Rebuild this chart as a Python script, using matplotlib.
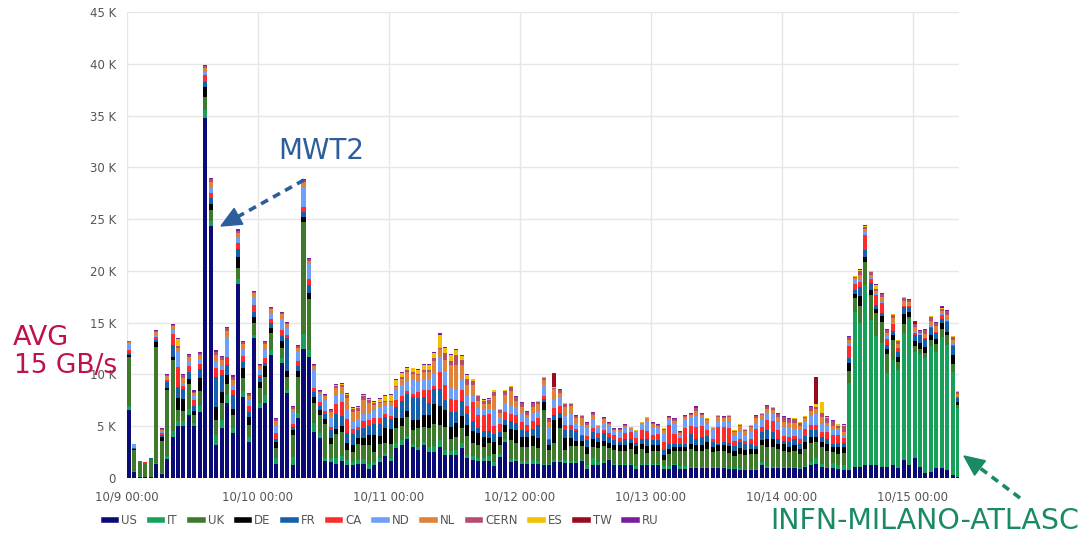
import matplotlib
matplotlib.use("Agg")
import matplotlib.pyplot as plt
from matplotlib.lines import Line2D
from matplotlib.patches import Polygon
import numpy as np

# ---------------- data (thousands per hour bin, starting 10/9 00:00) ----------------
day_labels = ["10/9 00:00", "10/10 00:00", "10/11 00:00", "10/12 00:00",
              "10/13 00:00", "10/14 00:00", "10/15 00:00"]
series_names = ["US", "IT", "UK", "DE", "FR", "CA", "ND", "NL", "CERN", "ES", "TW", "RU"]

US = [6.6, 0.6, 0.13, 0.05, 0.05, 1.35, 0.4, 1.8, 4.0, 5.0,
      5.0, 6.1, 5.0, 6.4, 34.8, 24.3, 3.2, 4.8, 7.2, 4.3,
      18.7, 7.8, 3.5, 13.5, 6.75, 7.2, 11.9, 1.4, 11.1, 8.2,
      1.25, 5.8, 12.5, 11.7, 4.4, 3.9, 1.6, 1.5, 1.35, 1.6,
      1.25, 1.25, 1.4, 1.4, 0.9, 1.25, 1.5, 2.1, 1.6, 2.9,
      3.2, 3.8, 3.0, 2.7, 3.2, 2.5, 2.5, 3.0, 2.2, 2.2,
      2.2, 2.9, 1.9, 1.7, 1.6, 1.6, 1.6, 1.15, 2.05, 3.5,
      1.5, 1.6, 1.4, 1.4, 1.35, 1.4, 1.25, 1.25, 1.5, 1.5,
      1.45, 1.45, 1.45, 1.6, 0.85, 1.25, 1.25, 1.45, 1.75, 1.25,
      1.25, 1.25, 1.25, 0.9, 1.25, 1.25, 1.25, 1.25, 0.9, 0.9,
      1.25, 0.9, 0.9, 1.0, 1.0, 1.0, 1.0, 1.0, 1.0, 1.0,
      0.9, 0.9, 0.8, 0.8, 0.75, 0.75, 1.25, 1.0, 1.0, 1.0,
      1.0, 1.0, 1.0, 0.9, 1.1, 1.25, 1.4, 1.1, 1.0, 0.93,
      0.85, 0.8, 0.8, 1.1, 1.1, 1.25, 1.25, 1.25, 1.1, 1.1,
      1.25, 0.93, 1.75, 1.25, 1.9, 1.1, 0.45, 0.6, 0.93, 0.93,
      0.8, 0.3, 0.13]

IT = [0.4, 0.05, 0.02, 0.0, 0.0, 0.1, 0.05, 0.3, 0.5, 0.5,
      0.5, 0.6, 0.3, 0.6, 0.7, 0.5, 1.0, 0.8, 0.8, 0.5,
      0.5, 0.6, 0.5, 0.3, 0.5, 0.8, 0.5, 0.5, 0.5, 0.3,
      0.8, 0.5, 1.4, 0.7, 0.9, 0.4, 0.3, 0.4, 0.6, 0.5,
      0.5, 0.3, 0.3, 0.4, 0.5, 0.3, 0.4, 0.3, 0.3, 0.5,
      0.5, 0.3, 0.25, 0.3, 0.3, 0.5, 0.55, 0.65, 0.5, 0.4,
      0.5, 0.5, 0.3, 0.4, 0.3, 0.3, 0.5, 0.4, 0.3, 0.3,
      0.3, 0.2, 0.25, 0.25, 0.4, 0.25, 0.15, 0.15, 0.25, 0.25,
      0.3, 0.15, 0.2, 0.15, 0.4, 0.65, 0.3, 0.15, 0.1, 0.15,
      0.1, 0.1, 0.1, 0.3, 0.1, 0.1, 0.1, 0.1, 0.3, 0.3,
      0.1, 0.3, 0.3, 0.1, 0.1, 0.1, 0.1, 0.1, 0.1, 0.1,
      0.1, 0.1, 0.2, 0.1, 0.1, 0.1, 0.3, 0.2, 0.1, 0.1,
      0.1, 0.1, 0.1, 0.1, 0.1, 0.3, 0.5, 0.3, 0.1, 0.5,
      0.4, 0.5, 8.4, 14.95, 13.9, 17.4, 14.05, 12.5, 11.9, 9.0,
      10.15, 9.5, 12.3, 14.1, 10.3, 10.9, 11.15, 12.1, 11.25, 12.7,
      12.0, 9.95, 6.6]

UK = [4.7, 2.1, 1.4, 1.4, 1.8, 11.2, 3.1, 6.4, 6.9, 1.1,
      1.0, 2.4, 0.8, 1.4, 1.3, 1.1, 1.4, 1.6, 1.1, 1.3,
      1.1, 1.3, 1.1, 1.2, 1.4, 1.8, 1.6, 1.0, 1.0, 1.3,
      2.1, 3.5, 10.8, 4.9, 1.9, 1.8, 3.3, 1.4, 2.3, 2.3,
      1.0, 1.0, 1.6, 1.4, 1.8, 1.0, 1.4, 1.0, 1.4, 1.4,
      1.3, 1.8, 1.35, 1.8, 1.45, 1.8, 2.2, 1.45, 2.25, 1.2,
      1.3, 1.45, 1.9, 1.3, 1.3, 1.1, 1.3, 0.8, 0.8, 0.65,
      1.9, 1.55, 1.35, 1.35, 1.3, 1.2, 5.15, 1.3, 1.6, 3.05,
      1.0, 1.45, 1.4, 1.3, 1.1, 1.1, 1.3, 1.45, 1.0, 1.3,
      1.3, 1.3, 1.45, 1.1, 1.45, 1.1, 1.3, 1.3, 0.5, 1.1,
      1.3, 1.45, 1.45, 1.7, 1.55, 1.55, 1.7, 1.4, 1.55, 1.55,
      1.4, 1.1, 1.35, 1.35, 1.45, 1.45, 1.6, 1.8, 1.9, 1.7,
      1.55, 1.4, 1.55, 1.3, 1.6, 1.8, 1.6, 1.55, 1.55, 1.1,
      1.1, 1.1, 1.1, 1.3, 1.6, 2.2, 2.35, 2.2, 2.1, 1.9,
      1.9, 0.8, 0.8, 0.2, 0.5, 0.5, 0.5, 0.65, 0.8, 0.8,
      1.0, 0.8, 0.3]

DE = [0.2, 0.05, 0.02, 0.02, 0.02, 0.45, 0.4, 0.2, 0.3, 1.1,
      1.1, 0.5, 0.4, 1.3, 1.0, 0.6, 1.3, 1.1, 0.8, 0.6,
      1.0, 0.9, 0.8, 0.5, 0.6, 1.0, 0.5, 0.6, 0.6, 0.5,
      0.5, 0.5, 0.5, 0.6, 0.6, 0.5, 0.5, 0.6, 0.5, 0.6,
      0.6, 0.6, 0.6, 0.7, 1.0, 1.6, 0.8, 1.4, 1.4, 1.0,
      0.8, 0.6, 1.0, 0.8, 1.1, 1.3, 1.9, 1.9, 1.6, 1.1,
      1.3, 1.1, 1.0, 1.1, 1.1, 1.0, 0.5, 1.1, 0.8, 0.65,
      1.0, 1.3, 1.0, 1.0, 1.0, 1.0, 0.8, 0.5, 2.25, 1.0,
      1.1, 0.8, 0.5, 0.5, 0.65, 0.8, 0.65, 0.5, 0.5, 0.5,
      0.5, 0.5, 0.55, 0.8, 0.5, 0.65, 0.5, 0.5, 0.5, 0.5,
      0.3, 0.3, 0.3, 0.5, 0.5, 0.5, 0.65, 0.5, 0.5, 0.5,
      0.65, 0.5, 0.5, 0.5, 0.5, 0.5, 0.5, 0.8, 0.8, 0.5,
      0.65, 0.5, 0.5, 0.5, 0.65, 0.65, 0.5, 0.5, 0.65, 0.5,
      0.6, 0.6, 0.8, 0.4, 1.0, 0.5, 0.55, 0.4, 0.55, 0.5,
      0.5, 0.5, 1.0, 0.5, 0.5, 0.5, 0.55, 0.5, 0.4, 0.5,
      0.3, 0.8, 0.3]

FR = [0.15, 0.05, 0.02, 0.02, 0.02, 0.25, 0.2, 0.6, 1.1, 1.1,
      1.0, 0.6, 0.5, 0.8, 0.4, 0.5, 2.9, 1.6, 1.0, 1.3,
      0.8, 0.6, 0.5, 0.5, 0.5, 0.3, 0.5, 0.3, 0.5, 3.2,
      0.3, 0.5, 0.5, 0.7, 0.5, 0.4, 0.5, 0.7, 1.4, 1.0,
      1.0, 1.1, 0.7, 0.9, 0.8, 1.1, 1.1, 1.1, 1.0, 1.1,
      1.6, 1.6, 2.25, 2.1, 1.8, 1.1, 1.45, 1.6, 1.0, 1.45,
      1.1, 1.45, 1.1, 1.0, 0.5, 0.5, 0.65, 0.8, 0.5, 0.5,
      0.8, 0.65, 0.65, 0.5, 0.65, 1.3, 0.3, 0.5, 0.5, 0.5,
      0.8, 0.8, 1.0, 0.5, 0.65, 0.65, 0.4, 0.8, 0.6, 0.5,
      0.3, 0.65, 0.4, 0.3, 0.5, 0.65, 0.5, 0.5, 0.5, 0.5,
      0.3, 0.3, 0.3, 0.95, 0.65, 0.8, 0.65, 0.5, 0.15, 0.3,
      0.3, 0.5, 0.65, 0.5, 0.5, 0.3, 0.8, 0.8, 0.65, 0.5,
      0.3, 0.5, 0.65, 0.5, 0.65, 0.65, 0.65, 0.5, 0.5, 0.3,
      0.4, 0.4, 0.5, 0.45, 0.8, 0.65, 0.6, 0.4, 0.25, 0.3,
      0.4, 0.4, 0.65, 0.5, 0.65, 0.8, 0.75, 0.65, 0.65, 0.4,
      1.0, 0.9, 0.4]

CA = [0.3, 0.05, 0.02, 0.02, 0.02, 0.3, 0.15, 0.15, 1.1, 1.9,
      0.3, 0.6, 0.5, 0.5, 0.7, 0.5, 0.8, 0.5, 0.8, 0.5,
      0.6, 0.6, 0.6, 0.7, 0.2, 0.5, 0.4, 0.5, 0.6, 0.3,
      0.3, 0.5, 0.5, 0.6, 0.4, 0.3, 0.3, 0.3, 1.0, 1.3,
      1.3, 0.5, 0.3, 0.7, 0.6, 0.5, 0.6, 0.3, 0.3, 0.6,
      0.5, 0.3, 0.3, 0.6, 0.65, 1.3, 0.3, 1.6, 1.45, 1.3,
      1.1, 1.1, 0.8, 1.8, 1.3, 1.6, 1.6, 0.8, 0.8, 0.8,
      0.65, 0.8, 0.8, 0.65, 0.8, 0.65, 0.3, 0.1, 0.65, 0.65,
      0.5, 0.5, 0.15, 0.1, 0.4, 0.4, 0.4, 0.3, 0.4, 0.5,
      0.4, 0.5, 0.65, 0.5, 0.8, 0.8, 0.5, 0.6, 0.8, 1.8,
      1.0, 0.65, 1.6, 0.8, 1.1, 1.1, 0.5, 0.3, 1.6, 1.45,
      1.45, 0.5, 0.3, 0.3, 0.5, 1.6, 0.5, 1.0, 1.1, 0.8,
      0.5, 0.5, 0.3, 0.5, 0.65, 0.5, 0.5, 0.5, 0.65, 0.8,
      0.8, 0.5, 1.1, 0.5, 0.55, 1.45, 0.4, 0.9, 1.0, 0.65,
      0.65, 0.4, 0.1, 0.05, 0.2, 0.05, 0.1, 0.1, 0.1, 0.4,
      0.1, 0.1, 0.05]

ND = [0.7, 0.35, 0.03, 0.02, 0.02, 0.2, 0.15, 0.15, 0.4, 1.6,
      0.3, 0.5, 0.4, 0.5, 0.3, 0.5, 0.6, 0.4, 1.9, 0.4,
      0.5, 0.6, 0.5, 0.8, 0.6, 0.8, 0.5, 0.8, 1.1, 0.8,
      1.1, 1.0, 1.9, 1.5, 1.8, 0.8, 1.0, 1.0, 0.8, 0.8,
      1.0, 0.8, 0.8, 0.7, 0.7, 0.8, 1.1, 0.8, 1.0, 1.0,
      1.1, 1.0, 1.3, 1.0, 1.1, 1.1, 1.1, 1.5, 1.3, 1.0,
      1.0, 1.1, 1.0, 0.65, 0.65, 0.5, 0.5, 1.6, 0.65, 0.8,
      0.8, 0.8, 0.8, 0.65, 0.8, 0.65, 1.0, 1.1, 0.8, 0.8,
      0.8, 1.0, 0.65, 1.0, 0.75, 0.85, 0.6, 0.7, 0.65, 0.3,
      0.55, 0.5, 0.2, 0.5, 0.65, 1.0, 0.75, 0.55, 0.8, 0.5,
      1.0, 0.3, 0.8, 0.8, 1.1, 0.8, 0.65, 0.8, 0.65, 0.65,
      0.65, 0.5, 0.65, 0.65, 0.65, 0.65, 0.65, 0.7, 0.65, 0.8,
      0.8, 0.8, 0.65, 0.8, 0.8, 0.8, 1.0, 0.8, 0.65, 0.5,
      0.5, 0.3, 0.3, 0.4, 0.2, 0.3, 0.1, 0.1, 0.1, 0.3,
      0.1, 0.1, 0.1, 0.05, 0.1, 0.05, 0.05, 0.1, 0.05, 0.1,
      0.05, 0.05, 0.05]

NL = [0.1, 0.05, 0.02, 0.02, 0.02, 0.25, 0.2, 0.25, 0.4, 0.3,
      0.5, 0.4, 0.3, 0.4, 0.35, 0.6, 0.7, 0.6, 0.6, 0.6,
      0.5, 0.5, 0.45, 0.35, 0.3, 0.5, 0.4, 0.4, 0.4, 0.3,
      0.35, 0.3, 0.5, 0.3, 0.3, 0.2, 0.4, 0.5, 0.7, 0.7,
      1.1, 0.8, 0.8, 1.3, 0.9, 0.5, 0.3, 0.3, 0.3, 0.3,
      0.6, 0.8, 0.6, 0.6, 0.6, 0.6, 1.3, 0.75, 1.1, 2.25,
      2.4, 1.3, 1.0, 1.0, 0.65, 0.5, 0.5, 1.3, 0.4, 0.8,
      1.45, 0.5, 0.65, 0.3, 0.6, 0.65, 0.5, 0.55, 1.0, 0.5,
      0.9, 0.8, 0.45, 0.65, 0.35, 0.4, 0.1, 0.3, 0.2, 0.15,
      0.2, 0.2, 0.2, 0.1, 0.05, 0.2, 0.3, 0.2, 0.35, 0.2,
      0.3, 0.15, 0.25, 0.2, 0.5, 0.2, 0.35, 0.2, 0.35, 0.2,
      0.4, 0.35, 0.55, 0.35, 0.45, 0.45, 0.45, 0.4, 0.35, 0.45,
      0.55, 0.5, 0.55, 0.4, 0.2, 0.5, 0.5, 0.6, 0.2, 0.4,
      0.15, 0.2, 0.35, 0.2, 0.45, 0.3, 0.35, 0.3, 0.45, 0.3,
      0.5, 0.35, 0.4, 0.3, 0.4, 0.15, 0.4, 0.5, 0.45, 0.3,
      0.5, 0.45, 0.3]

CERN = [0.05, 0.0, 0.0, 0.0, 0.0, 0.1, 0.1, 0.1, 0.1, 0.1,
        0.2, 0.2, 0.15, 0.15, 0.2, 0.3, 0.3, 0.3, 0.3, 0.3,
        0.2, 0.2, 0.15, 0.15, 0.1, 0.2, 0.15, 0.15, 0.15, 0.1,
        0.15, 0.1, 0.2, 0.15, 0.15, 0.1, 0.15, 0.2, 0.25, 0.2,
        0.3, 0.3, 0.3, 0.4, 0.3, 0.2, 0.1, 0.1, 0.15, 0.1,
        0.2, 0.2, 0.15, 0.15, 0.2, 0.2, 0.3, 0.1, 0.65, 0.4,
        1.0, 0.5, 0.6, 0.4, 0.5, 0.3, 0.4, 0.4, 0.3, 0.4,
        0.4, 0.4, 0.3, 0.25, 0.3, 0.25, 0.25, 0.2, 0.15, 0.2,
        0.3, 0.2, 0.15, 0.2, 0.15, 0.15, 0.05, 0.1, 0.1, 0.05,
        0.1, 0.1, 0.05, 0.05, 0.05, 0.05, 0.1, 0.1, 0.1, 0.05,
        0.1, 0.05, 0.05, 0.1, 0.25, 0.1, 0.1, 0.05, 0.1, 0.1,
        0.15, 0.1, 0.15, 0.1, 0.15, 0.15, 0.15, 0.25, 0.25, 0.3,
        0.4, 0.35, 0.4, 0.35, 0.15, 0.4, 0.2, 0.45, 0.5, 0.45,
        0.25, 0.6, 0.25, 0.15, 0.4, 0.2, 0.25, 0.2, 0.3, 0.2,
        0.3, 0.25, 0.3, 0.2, 0.3, 0.1, 0.3, 0.35, 0.3, 0.2,
        0.35, 0.3, 0.2]

ES = [0.0, 0.0, 0.0, 0.0, 0.0, 0.0, 0.0, 0.0, 0.0, 0.7,
      0.0, 0.0, 0.0, 0.0, 0.0, 0.0, 0.0, 0.0, 0.0, 0.0,
      0.0, 0.0, 0.0, 0.0, 0.0, 0.0, 0.0, 0.0, 0.0, 0.0,
      0.0, 0.0, 0.0, 0.0, 0.0, 0.0, 0.0, 0.0, 0.1, 0.1,
      0.1, 0.15, 0.1, 0.1, 0.1, 0.1, 0.3, 0.5, 0.6, 0.6,
      0.3, 0.2, 0.4, 0.4, 0.5, 0.5, 0.5, 1.3, 0.5, 0.6,
      0.5, 0.4, 0.3, 0.2, 0.1, 0.15, 0.1, 0.1, 0.05, 0.05,
      0.05, 0.05, 0.05, 0.05, 0.05, 0.05, 0.05, 0.05, 0.05, 0.05,
      0.05, 0.05, 0.05, 0.05, 0.05, 0.05, 0.05, 0.05, 0.05, 0.05,
      0.05, 0.05, 0.05, 0.05, 0.05, 0.05, 0.05, 0.05, 0.05, 0.05,
      0.05, 0.05, 0.05, 0.05, 0.05, 0.05, 0.05, 0.05, 0.05, 0.05,
      0.05, 0.05, 0.05, 0.05, 0.05, 0.05, 0.05, 0.05, 0.05, 0.05,
      0.05, 0.05, 0.05, 0.05, 0.05, 0.05, 0.3, 1.0, 0.1, 0.05,
      0.15, 0.15, 0.05, 0.05, 0.1, 0.1, 0.05, 0.4, 0.05, 0.05,
      0.05, 0.05, 0.05, 0.05, 0.05, 0.05, 0.05, 0.05, 0.05, 0.05,
      0.05, 0.05, 0.03]

TW = [0.0, 0.0, 0.0, 0.0, 0.0, 0.0, 0.0, 0.0, 0.0, 0.0,
      0.0, 0.0, 0.0, 0.0, 0.0, 0.0, 0.0, 0.0, 0.0, 0.0,
      0.0, 0.0, 0.0, 0.0, 0.0, 0.0, 0.0, 0.0, 0.0, 0.0,
      0.0, 0.0, 0.0, 0.0, 0.0, 0.0, 0.0, 0.0, 0.0, 0.0,
      0.0, 0.0, 0.0, 0.0, 0.0, 0.0, 0.0, 0.0, 0.0, 0.0,
      0.0, 0.0, 0.0, 0.0, 0.0, 0.0, 0.0, 0.0, 0.0, 0.0,
      0.0, 0.0, 0.0, 0.0, 0.0, 0.0, 0.0, 0.0, 0.0, 0.0,
      0.0, 0.0, 0.0, 0.0, 0.0, 0.0, 0.0, 0.0, 1.3, 0.0,
      0.0, 0.0, 0.0, 0.0, 0.0, 0.0, 0.0, 0.0, 0.0, 0.0,
      0.0, 0.0, 0.0, 0.0, 0.0, 0.0, 0.0, 0.0, 0.0, 0.0,
      0.0, 0.0, 0.0, 0.0, 0.0, 0.0, 0.0, 0.0, 0.0, 0.0,
      0.0, 0.0, 0.0, 0.0, 0.0, 0.0, 0.0, 0.0, 0.0, 0.0,
      0.0, 0.0, 0.0, 0.0, 0.0, 0.0, 2.6, 0.0, 0.0, 0.0,
      0.0, 0.0, 0.0, 0.0, 0.0, 0.0, 0.0, 0.0, 0.0, 0.0,
      0.0, 0.0, 0.0, 0.0, 0.2, 0.0, 0.0, 0.0, 0.0, 0.1,
      0.0, 0.0, 0.0]

RU = [0.05, 0.0, 0.0, 0.0, 0.0, 0.1, 0.05, 0.05, 0.1, 0.1,
      0.1, 0.1, 0.1, 0.1, 0.1, 0.1, 0.2, 0.1, 0.1, 0.1,
      0.1, 0.1, 0.1, 0.1, 0.1, 0.1, 0.1, 0.1, 0.1, 0.1,
      0.1, 0.1, 0.1, 0.1, 0.1, 0.05, 0.1, 0.1, 0.1, 0.1,
      0.1, 0.1, 0.1, 0.1, 0.1, 0.1, 0.1, 0.1, 0.1, 0.1,
      0.1, 0.1, 0.05, 0.05, 0.1, 0.1, 0.1, 0.2, 0.1, 0.1,
      0.1, 0.1, 0.1, 0.05, 0.05, 0.05, 0.05, 0.05, 0.05, 0.05,
      0.05, 0.05, 0.05, 0.05, 0.05, 0.05, 0.05, 0.05, 0.05, 0.05,
      0.05, 0.05, 0.05, 0.05, 0.05, 0.05, 0.05, 0.05, 0.05, 0.05,
      0.05, 0.05, 0.05, 0.05, 0.05, 0.05, 0.05, 0.05, 0.05, 0.05,
      0.05, 0.05, 0.05, 0.05, 0.15, 0.05, 0.05, 0.05, 0.05, 0.05,
      0.05, 0.05, 0.05, 0.05, 0.05, 0.05, 0.05, 0.05, 0.05, 0.05,
      0.05, 0.05, 0.05, 0.05, 0.05, 0.05, 0.05, 0.05, 0.05, 0.05,
      0.05, 0.05, 0.05, 0.05, 0.05, 0.05, 0.05, 0.05, 0.05, 0.05,
      0.05, 0.05, 0.05, 0.05, 0.1, 0.05, 0.05, 0.05, 0.05, 0.1,
      0.05, 0.05, 0.05]

series_values = [US, IT, UK, DE, FR, CA, ND, NL, CERN, ES, TW, RU]
colors = ["#0b0b78", "#16a05a", "#3d7a2c", "#000000", "#1560ad", "#ff2b2b",
          "#6ea0fa", "#e0823a", "#b44e6c", "#f2c200", "#990a1e", "#7a1ea0"]

for name, vals in zip(series_names, series_values):
    assert len(vals) == 153, f"{name} has {len(vals)}"

# ---------------- figure ----------------
W, H = 1082, 533
fig = plt.figure(figsize=(W / 100, H / 100), dpi=100)
ax = fig.add_axes([127 / W, 1 - 478 / H, (959 - 127) / W, (478 - 12) / H])

hours = np.arange(len(US))
bottom = np.zeros(len(US))
for name, vals, c in zip(series_names, series_values, colors):
    v = np.array(vals)
    ax.bar(hours + 0.35, v, width=0.74, bottom=bottom, color=c,
           edgecolor="none", zorder=3)
    bottom += v

ax.set_xlim(0, 152.5)
ax.set_ylim(0, 45)
ax.set_yticks(np.arange(0, 46, 5))
ax.set_yticklabels(["0"] + [f"{v} K" for v in range(5, 46, 5)])
ax.set_xticks(np.arange(0, 24 * len(day_labels), 24))
ax.set_xticklabels(day_labels)
ax.tick_params(axis="both", length=0, labelsize=8.5, colors="#555555")
ax.tick_params(axis="y", pad=8)
ax.tick_params(axis="x", pad=9)
ax.grid(True, color="#e6e6e6", linewidth=1, zorder=0)
for s in ax.spines.values():
    s.set_visible(False)

# legend
handles = [Line2D([0], [0], color=c, lw=4) for c in colors]
fig.legend(handles, series_names, loc="center left",
           bbox_to_anchor=(93 / W, 1 - 521 / H), ncol=12, frameon=False,
           fontsize=8.5, handlelength=1.05, handletextpad=0.45,
           columnspacing=1.05, labelcolor="#555555")


def fx(x):
    return x / W


def fy(y):
    return 1 - y / H


def dashed_arrow(x0, y0, x1, y1, color, lw, head_len, head_w, dashes):
    # shaft (dashed) stops at head base, head is solid triangle
    dx, dy = x1 - x0, y1 - y0
    L = np.hypot(dx, dy)
    ux, uy = dx / L, dy / L
    bx, by = x1 - ux * head_len, y1 - uy * head_len
    fig.add_artist(Line2D([fx(x0), fx(bx)], [fy(y0), fy(by)], color=color,
                          lw=lw, dashes=dashes, transform=fig.transFigure))
    px, py = -uy, ux
    pts = [(fx(x1), fy(y1)),
           (fx(bx + px * head_w / 2), fy(by + py * head_w / 2)),
           (fx(bx - px * head_w / 2), fy(by - py * head_w / 2))]
    fig.add_artist(Polygon(pts, closed=True, color=color,
                           transform=fig.transFigure))


# annotations
blue = "#2c5f9a"
green = "#1a8a62"
crimson = "#c0104e"
fig.text(fx(278), fy(151), "MWT2", color=blue, fontsize=20,
         family="DejaVu Sans", va="center", ha="left")
dashed_arrow(304, 180, 221, 226, blue, 2.6, 20, 18, (2.2, 1.6))

fig.text(fx(770), fy(521), "INFN-MILANO-ATLASC", color=green, fontsize=20.5,
         family="DejaVu Sans", va="center", ha="left")
dashed_arrow(1020, 498, 964, 456, green, 2.6, 20, 18, (2.2, 1.6))

fig.text(fx(13), fy(338), "AVG", color=crimson, fontsize=19.5,
         family="DejaVu Sans", va="center", ha="left")
fig.text(fx(14), fy(366), "15 GB/s", color=crimson, fontsize=19,
         family="DejaVu Sans", va="center", ha="left")

fig.savefig("out.png", dpi=100)
